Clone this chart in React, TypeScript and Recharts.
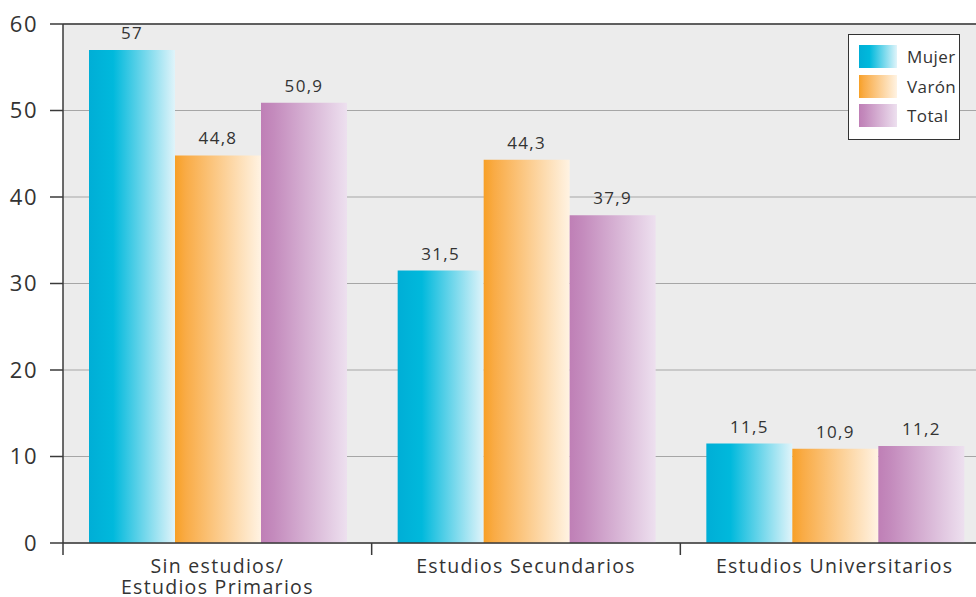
import { Bar, BarChart, CartesianGrid, LabelList, ReferenceLine, XAxis, YAxis } from "recharts"

const categories = ["Sin estudios/\nEstudios Primarios", "Estudios Secundarios", "Estudios Universitarios"]
const mujer = [57, 31.5, 11.5]
const varon = [44.8, 44.3, 10.9]
const total = [50.9, 37.9, 11.2]
const yTicks = [0, 10, 20, 30, 40, 50, 60]
const seriesNames = ["Mujer", "Varón", "Total"]

const FONT = "'Open Sans', sans-serif"
const TEXT = "#333333"
const AXIS = "#3a3a3a"
const PLOT_BOTTOM = 543

const gradients = [
  { id: "gMujer", stops: [["0%", "#00aed6"], ["28%", "#00b9dc"], ["100%", "#e0f4fa"]] },
  { id: "gVaron", stops: [["0%", "#f7a026"], ["12%", "#f9ab45"], ["100%", "#fff3e3"]] },
  { id: "gTotal", stops: [["0%", "#bf7fb6"], ["15%", "#c48bbd"], ["100%", "#ede0ef"]] },
]

const data = categories.map((name, i) => ({
  name,
  idx: i + 0.5,
  Mujer: mujer[i],
  Varón: varon[i],
  Total: total[i],
}))

// boundaries get a tick mark, centres get the category name
const bottomTicks = [0, 0.5, 1, 1.5, 2, 2.5, 3]

const fmt = (v: any) => String(v).replace(".", ",")

function BottomTick({ x, payload }: any) {
  const v = payload.value
  if (Number.isInteger(v)) {
    return <line x1={x} x2={x} y1={PLOT_BOTTOM} y2={PLOT_BOTTOM + 12} stroke={AXIS} strokeWidth={1.5} />
  }
  const lines = categories[Math.floor(v)].split("\n")
  return (
    <g>
      {lines.map((l, i) => (
        <text
          key={i}
          x={x}
          y={PLOT_BOTTOM + 30 + i * 21}
          textAnchor="middle"
          fontSize={19.5}
          letterSpacing={1.3}
          fill={TEXT}
          fontFamily={FONT}
        >
          {l}
        </text>
      ))}
    </g>
  )
}

function LegendBox() {
  return (
    <div
      style={{
        position: "absolute",
        left: 848,
        top: 34,
        width: 112,
        height: 106,
        border: "1.5px solid #333",
        background: "#fff",
        boxSizing: "border-box",
        padding: "7px 0 0 10px",
        fontFamily: FONT,
        fontSize: 17,
        letterSpacing: 0.4,
        color: TEXT,
      }}
    >
      {seriesNames.map((n, i) => (
        <div key={n} style={{ display: "flex", alignItems: "center", height: 29.5 }}>
          <svg width={38} height={23} style={{ marginRight: 10 }}>
            <defs>
              <linearGradient id={"lg" + i} x1="0" y1="0" x2="1" y2="0">
                {gradients[i].stops.map(([o, c]) => (
                  <stop key={o} offset={o} stopColor={c} />
                ))}
              </linearGradient>
            </defs>
            <rect width={38} height={23} fill={`url(#lg${i})`} />
          </svg>
          <span>{n}</span>
        </div>
      ))}
    </div>
  )
}

const labelProps = { position: "top" as const, offset: 11, formatter: fmt, fill: TEXT, fontSize: 17, fontFamily: FONT, letterSpacing: 1.3 }

export default function App() {
  return (
    <div style={{ position: "absolute", left: 0, top: 0, width: 976, height: 597, overflow: "hidden", background: "#fff" }}>
      <BarChart
        width={1000}
        height={597}
        data={data}
        margin={{ top: 24, right: 11, left: 0, bottom: 0 }}
        barCategoryGap={26}
        barGap={0}
      >
        <defs>
          {gradients.map((g) => (
            <linearGradient key={g.id} id={g.id} x1="0" y1="0" x2="1" y2="0">
              {g.stops.map(([o, c]) => (
                <stop key={o} offset={o} stopColor={c} />
              ))}
            </linearGradient>
          ))}
        </defs>
        <CartesianGrid vertical={false} stroke="#a6a6a6" strokeWidth={1.2} fill="#ececec" />
        <XAxis dataKey="name" hide height={0} />
        <XAxis
          xAxisId="b"
          dataKey="idx"
          type="number"
          domain={[0, 3]}
          ticks={bottomTicks}
          interval={0}
          tickLine={false}
          tick={<BottomTick />}
          height={54}
          stroke={AXIS}
          strokeWidth={1.5}
        />
        <YAxis
          domain={[0, 60]}
          ticks={yTicks}
          width={63}
          tickSize={13}
          tickMargin={12}
          stroke={AXIS}
          strokeWidth={1.5}
          tick={{ fill: TEXT, fontSize: 22, fontFamily: FONT, letterSpacing: 1.5 }}
        />
        <ReferenceLine y={60} stroke={AXIS} strokeWidth={1.5} />
        <Bar dataKey="Mujer" fill="url(#gMujer)" isAnimationActive={false}>
          <LabelList dataKey="Mujer" {...labelProps} />
        </Bar>
        <Bar dataKey="Varón" fill="url(#gVaron)" isAnimationActive={false}>
          <LabelList dataKey="Varón" {...labelProps} />
        </Bar>
        <Bar dataKey="Total" fill="url(#gTotal)" isAnimationActive={false}>
          <LabelList dataKey="Total" {...labelProps} />
        </Bar>
      </BarChart>
      <LegendBox />
    </div>
  )
}
